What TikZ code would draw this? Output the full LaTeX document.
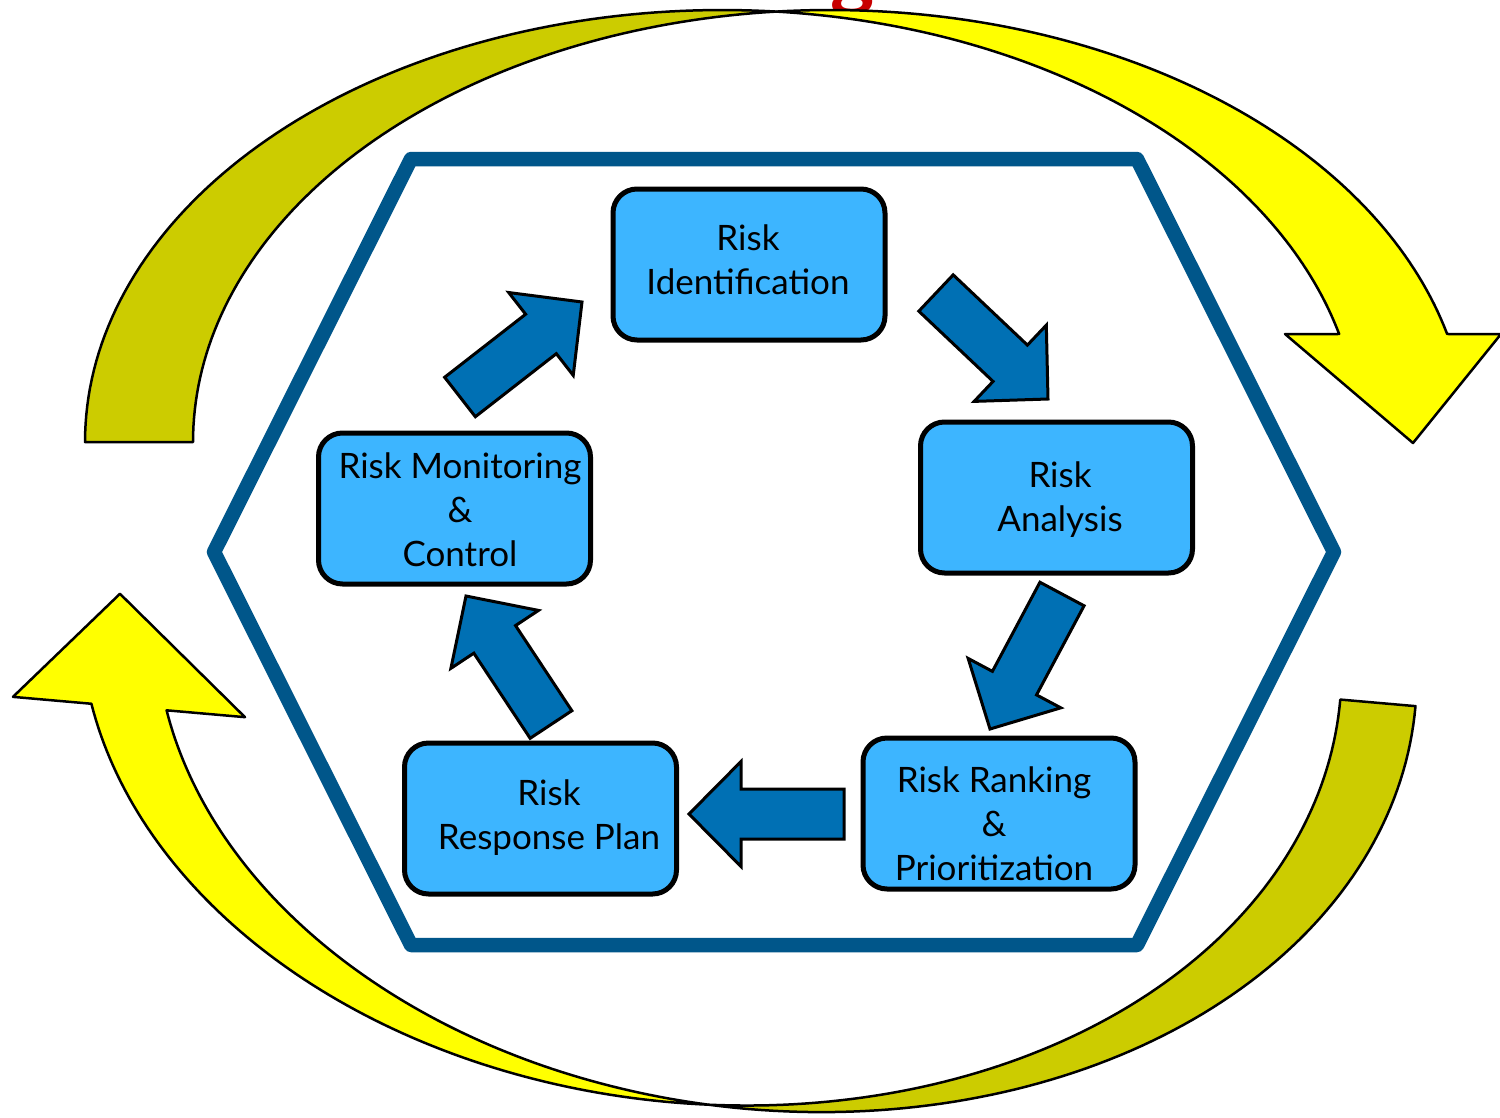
\documentclass[tikz,border=0pt]{standalone}
\usepackage{fontspec}
\setmainfont{Lato}
\usetikzlibrary{calc}
\definecolor{boxfill}{RGB}{61,181,255}
\definecolor{arrfill}{RGB}{0,112,180}
\definecolor{hexcol}{RGB}{0,86,138}
\definecolor{yel}{RGB}{255,255,0}
\definecolor{olivey}{RGB}{204,204,0}
\definecolor{titlered}{RGB}{200,0,0}
\newcommand\blkarrow[2]{%
  \coordinate (#1hb) at ($(#2)!52pt!(#1)$);
  \draw[blockarrow] ($(#1)!25pt!90:(#2)$) -- ($(#1hb)!25pt!90:(#2)$)
    -- ($(#1hb)!52.5pt!90:(#2)$) -- (#2) -- ($(#1hb)!52.5pt!-90:(#2)$)
    -- ($(#1hb)!25pt!-90:(#2)$) -- ($(#1)!25pt!-90:(#2)$) -- cycle;}
\tikzset{
  box/.style={draw=black, line width=5pt, fill=boxfill, rounded corners=24pt,
    minimum width=272pt, minimum height=151pt, inner sep=0pt},
  lbl/.style={align=center, font=\fontsize{35}{44}\selectfont, inner sep=0pt},
  blockarrow/.style={draw=black, line width=3pt, fill=arrfill, line join=miter},
  ribbon/.style={draw=black, line width=2.5pt, line join=round},
  hexline/.style={draw=hexcol, line width=14.5pt, line join=round}
}
\begin{document}
\begin{tikzpicture}[x=1pt,y=-1pt]
\useasboundingbox (0,0) rectangle (1500,1117);
\fill[white] (0,0) rectangle (1500,1117);
\clip (0,0) rectangle (1500,1117);
% title fragment (only its lowest part lies inside the picture)
\node[text=titlered, font=\fontsize{84}{84}\selectfont\bfseries, anchor=base, inner sep=0pt] (title) at (853,1) {g};
% top curved arrow
\draw[ribbon, fill=olivey]
  plot[domain=180:85.16, samples=80, variable=\t] ({722.2+637.2*cos(\t)},{442-432*sin(\t)})
  -- plot[domain=94.88:180, samples=80, variable=\t] ({830.2+637.2*cos(\t)},{442-432*sin(\t)})
  -- cycle;
\draw[ribbon, fill=yel]
  plot[domain=94.88:14.48, samples=80, variable=\t] ({830.2+637.2*cos(\t)},{442-432*sin(\t)})
  -- (1501,334) -- (1413,443) -- (1285,334)
  -- plot[domain=14.48:85.16, samples=80, variable=\t] ({722.2+637.2*cos(\t)},{442-432*sin(\t)})
  -- cycle;
% bottom curved arrow
\begin{scope}[rotate around={-5:(760,705)}]
\draw[ribbon, fill=olivey]
  plot[domain=93.43:0, samples=80, variable=\t] ({781.5+631.6*cos(\t)},{649+459.5*sin(\t)})
  -- plot[domain=0:86.57, samples=80, variable=\t] ({706+631.6*cos(\t)},{649+459.5*sin(\t)})
  -- cycle;
\draw[ribbon, fill=yel]
  plot[domain=86.57:165.76, samples=80, variable=\t] ({706+631.6*cos(\t)},{649+459.5*sin(\t)})
  -- (15.1,762) -- (112.7,650) -- (248,762)
  -- plot[domain=165.76:93.43, samples=80, variable=\t] ({781.5+631.6*cos(\t)},{649+459.5*sin(\t)})
  -- cycle;
\end{scope}
% hexagon
\draw[hexline] (411,159) -- (1137,159) -- (1334,552) -- (1137,945) -- (411,945) -- (214,552) -- cycle;
% boxes
\node[box] (ri) at (749,264.5) {};
\node[box] (ra) at (1056.5,497.5) {};
\node[box] (rr) at (999,813.5) {};
\node[box] (rp) at (540.5,818.5) {};
\node[box] (rm) at (454.5,508.5) {};
\node[lbl] (riT) at (748,259.5) {Risk\\Identification};
\node[lbl] (raT) at (1060,500) {Risk\\Analysis};
\node[lbl] (rrT) at (994,824) {Risk Ranking\\\&\\Prioritization};
\node[lbl] (rpT) at (549,818) {Risk\\Response Plan};
\node[lbl] (rmT) at (460,510) {Risk Monitoring\\\&\\Control};
% block arrows
\coordinate (a1t) at (936,293);   \coordinate (a1p) at (1048,399);
\coordinate (a2t) at (1062,594);  \coordinate (a2p) at (990,729);
\coordinate (a3t) at (844,814);   \coordinate (a3p) at (689,814);
\coordinate (a4t) at (551,724.5); \coordinate (a4p) at (466,596);
\coordinate (a5t) at (460,397);   \coordinate (a5p) at (582,302);
\blkarrow{a1t}{a1p}
\blkarrow{a2t}{a2p}
\blkarrow{a3t}{a3p}
\blkarrow{a4t}{a4p}
\blkarrow{a5t}{a5p}
\end{tikzpicture}
\end{document}
